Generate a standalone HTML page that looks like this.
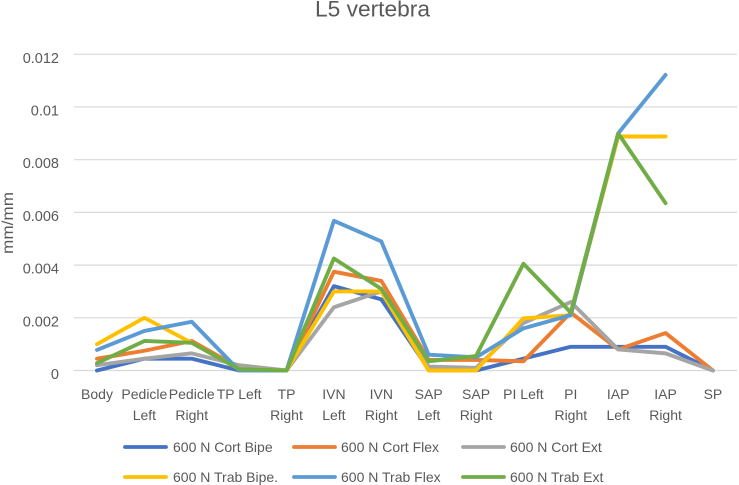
<!DOCTYPE html>
<html lang="en">
<head>
<meta charset="utf-8">
<title>L5 vertebra</title>
<style>
html,body{margin:0;padding:0;background:#fff;width:739px;height:485px;overflow:hidden}
svg{display:block}
text{font-family:"Liberation Sans",sans-serif;fill:#595959}
</style>
</head>
<body>
<svg id="chart" width="739" height="485" viewBox="0 0 739 485" xmlns="http://www.w3.org/2000/svg">
  <text x="372.5" y="16.5" text-anchor="middle" font-size="22" textLength="115" lengthAdjust="spacingAndGlyphs">L5 vertebra</text>
  <text transform="translate(13,223) rotate(-90)" text-anchor="middle" font-size="16" textLength="62" lengthAdjust="spacingAndGlyphs">mm/mm</text>
  <g id="grid"></g>
  <g id="ylabels"></g>
  <g id="xlabels"></g>
  <g id="series"></g>
  <g font-size="14">
    <g><line x1="125" y1="447" x2="166" y2="447" stroke="#4472c4" stroke-width="3.8" stroke-linecap="round"/><text x="173" y="452" font-size="14">600 N Cort Bipe</text></g>
    <g><line x1="294" y1="447" x2="335" y2="447" stroke="#ed7d31" stroke-width="3.8" stroke-linecap="round"/><text x="341" y="452" font-size="14">600 N Cort Flex</text></g>
    <g><line x1="463" y1="447" x2="504" y2="447" stroke="#a5a5a5" stroke-width="3.8" stroke-linecap="round"/><text x="510" y="452" font-size="14">600 N Cort Ext</text></g>
    <g><line x1="125" y1="477" x2="166" y2="477" stroke="#ffc000" stroke-width="3.8" stroke-linecap="round"/><text x="173" y="482" font-size="14">600 N Trab Bipe.</text></g>
    <g><line x1="294" y1="477" x2="335" y2="477" stroke="#5b9bd5" stroke-width="3.8" stroke-linecap="round"/><text x="341" y="482" font-size="14">600 N Trab Flex</text></g>
    <g><line x1="463" y1="477" x2="504" y2="477" stroke="#70ad47" stroke-width="3.8" stroke-linecap="round"/><text x="510" y="482" font-size="14">600 N Trab Ext</text></g>
  </g>
</svg>
<script>
const categories = [["Body"],["Pedicle","Left"],["Pedicle","Right"],["TP Left"],["TP","Right"],["IVN","Left"],["IVN","Right"],["SAP","Left"],["SAP","Right"],["PI Left"],["PI","Right"],["IAP","Left"],["IAP","Right"],["SP"]];
const yTicks = [0, 0.002, 0.004, 0.006, 0.008, 0.01, 0.012];
const cortBipe = [0, 0.00045, 0.00045, 0, 0, 0.0032, 0.0027, 0.00005, 0, 0.00045, 0.0009, 0.0009, 0.0009, 0];
const cortFlex = [0.00045, 0.00075, 0.00112, 0.0001, 0, 0.00375, 0.0034, 0.0004, 0.0004, 0.00035, 0.0022, 0.0008, 0.00142, 0];
const cortExt = [0.0002, 0.00045, 0.00065, 0.0002, 0, 0.0024, 0.003, 0.00015, 0.0001, 0.0018, 0.0026, 0.0008, 0.00065, 0];
const trabBipe = [0.001, 0.002, 0.00105, 0.00005, 0, 0.003, 0.003, 0, 0, 0.00198, 0.0021, 0.00888, 0.00888];
const trabFlex = [0.00078, 0.0015, 0.00185, 0, 0, 0.00568, 0.0049, 0.0006, 0.0005, 0.0016, 0.0021, 0.009, 0.01122];
const trabExt = [0.00028, 0.00112, 0.00105, 0.00005, 0, 0.00425, 0.0031, 0.00035, 0.00055, 0.00405, 0.0022, 0.009, 0.00635];

const NS = "http://www.w3.org/2000/svg";
function xScale(i) { return 97 + i * 47.38; }
function yScale(v) { return 370.5 - v * 26350; }

const grid = document.getElementById("grid");
const ylabels = document.getElementById("ylabels");
yTicks.forEach(function (t) {
  const y = yScale(t);
  const line = document.createElementNS(NS, "line");
  
  
  line.setAttribute("x1", 74);
  line.setAttribute("x2", 737);
  line.setAttribute("y1", y);
  line.setAttribute("y2", y);
  line.setAttribute("stroke", "#d9d9d9");
  line.setAttribute("stroke-width", "1.2");
  grid.appendChild(line);
  const label = document.createElementNS(NS, "text");
  
  
  label.setAttribute("x", 59);
  label.setAttribute("y", y + 8.5);
  label.setAttribute("text-anchor", "end");
  label.setAttribute("font-size", "14.5");
  label.textContent = String(t);
  ylabels.appendChild(label);
});

const xlabels = document.getElementById("xlabels");
categories.forEach(function (parts, i) {
  parts.forEach(function (part, j) {
    const label = document.createElementNS(NS, "text");
    
    
    label.setAttribute("x", xScale(i));
    label.setAttribute("y", 399 + j * 21);
    label.setAttribute("text-anchor", "middle");
    label.setAttribute("font-size", "14");
    label.textContent = part;
    xlabels.appendChild(label);
  });
});

const seriesGroup = document.getElementById("series");
function drawSeries(values, color, name) {
  const pts = values.map(function (v, i) { return xScale(i) + "," + yScale(v); }).join(" ");
  const poly = document.createElementNS(NS, "polyline");
  
  
  poly.setAttribute("points", pts);
  poly.setAttribute("fill", "none");
  poly.setAttribute("stroke", color);
  poly.setAttribute("stroke-width", "3.9");
  poly.setAttribute("stroke-linecap", "round");
  poly.setAttribute("stroke-linejoin", "round");
  seriesGroup.appendChild(poly);
}
drawSeries(cortBipe, "#4472c4", "series-cort-bipe");
drawSeries(cortFlex, "#ed7d31", "series-cort-flex");
drawSeries(cortExt, "#a5a5a5", "series-cort-ext");
drawSeries(trabBipe, "#ffc000", "series-trab-bipe");
drawSeries(trabFlex, "#5b9bd5", "series-trab-flex");
drawSeries(trabExt, "#70ad47", "series-trab-ext");
</script>
</body>
</html>
